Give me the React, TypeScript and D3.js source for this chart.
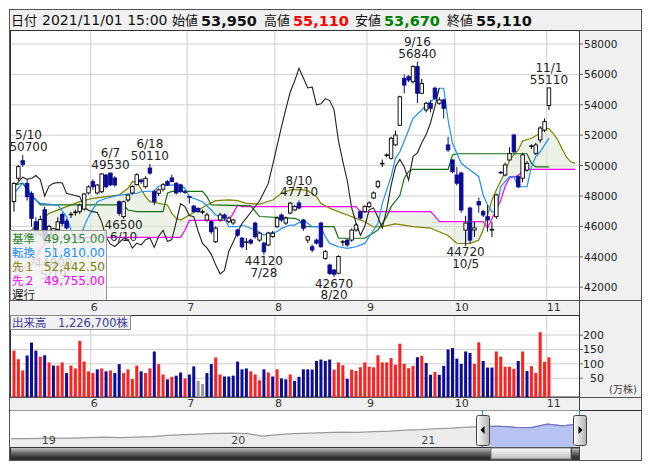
import React from "react";
import * as d3 from "d3";

const FONT = "'DejaVu Sans','Noto Sans CJK JP',sans-serif";

// ---- daily OHLC, 2021/5/6 .. 2021/11/1 (123 trading days) ----
const opens = [47630,49170,50320,48830,48170,46300,45500,47100,45300,45200,
45800,46780,46350,46780,46900,46970,47140,48200,48940,48200,
48280,49380,49510,49180,47620,46640,47740,48200,48750,49050,
48610,49840,48290,48180,48450,48940,49190,48840,48730,48270,
47960,47340,47190,46970,46420,46310,44990,46420,46750,46310,
46230,45760,45230,44990,45100,46220,45100,44900,44780,45330,
45980,46750,46220,46880,47080,47540,46420,45100,44660,45100,
46220,43900,43460,43130,42920,44980,45100,45100,45760,46970,
46970,47300,47870,48610,50120,50680,50480,51360,52660,55740,
55850,55520,56510,54760,53660,54100,55090,54100,54320,51360,
50370,49380,49510,45760,47210,45760,47630,46970,46640,45770,
46640,49560,49380,50370,52010,49270,49170,49710,51290,50810,
51690,52340,53950];
const highs = [48900,50050,50700,49100,48300,46600,46700,47300,46100,45900,
46600,46900,46500,46950,47100,47500,48200,48700,49100,48800,
49500,49450,49530,49300,47700,47700,48150,48700,49500,49150,
49300,50110,48400,48500,48850,49050,49400,48900,48800,48400,
48000,47400,47250,47100,46900,46400,46000,46900,46850,46650,
46500,45850,45300,45230,45200,46300,45650,45000,45650,45700,
46650,46850,46650,47600,47400,47710,46500,45400,44800,45200,
46300,44450,43550,43200,44100,45100,45200,45850,46200,47050,
47400,47650,48300,49050,50400,50800,51900,52300,54600,56000,
55950,56600,56840,55700,54200,54300,55200,54500,54400,51900,
50400,49900,49600,46700,47300,46300,47900,47100,47400,46300,
48150,49650,50200,51200,52100,49400,50850,50300,51400,51500,
52600,53110,55110];
const lows = [46970,49000,49900,47700,45980,45300,45300,44900,45100,44000,
45600,46000,45800,46550,46700,46800,47050,48100,48400,48100,
48200,48500,48650,48600,46700,46500,47600,48100,48700,48800,
48500,49400,47400,48000,48300,48650,48900,48100,48200,48150,
47500,46900,46900,46800,46300,45500,44900,46300,46400,46200,
46100,45300,44550,44450,44800,45200,45000,44120,44700,45250,
45900,46300,46100,46800,47000,47100,45700,44900,44300,44800,
44600,43800,42800,42670,42850,44700,44650,45000,45650,46450,
46900,47200,47800,48500,49900,50550,50400,51300,52600,54750,
55500,55400,54100,54700,53500,53500,54300,54000,53100,50900,
49500,48700,46900,44720,44900,45300,46900,46600,45660,45300,
46500,49450,49300,50300,50800,48510,48900,49600,51100,50700,
51500,52200,53670];
const closes = [48830,49930,50080,47950,46530,45700,46450,45100,46000,45850,
46300,46200,45900,46800,46950,47400,48130,48600,48610,48720,
49450,48610,48730,48730,46860,47620,48060,48620,49400,48940,
49160,49510,47630,48400,48740,48730,48960,48200,48290,48250,
47940,46970,46970,46970,46750,45650,45890,46750,46550,46550,
46420,45430,44660,44990,44900,45320,45560,44330,45560,45550,
46550,46420,46550,47530,47300,47210,45880,45320,44450,44900,
44660,44340,42900,42850,44020,45000,44780,45760,46090,46550,
47300,47540,48200,48940,50150,50700,51800,52010,54530,55300,
55630,56510,54760,55410,54100,53770,54430,54320,53770,51030,
49600,48840,47080,46220,45100,45900,47410,46750,46420,45800,
48070,49550,50040,50800,50910,48610,50700,50150,51300,51360,
52470,52890,55110];

// volume (万株) and its colour code (R up / B down / G unchanged)
const volumes = [146,116,77,129,174,146,125,130,105,94,
94,105,68,94,84,180,108,74,68,81,
84,74,77,68,99,68,81,47,94,74,
68,84,143,99,63,46,55,59,70,49,
63,91,41,30,68,99,122,63,56,56,
59,108,81,84,74,63,43,81,70,56,
81,49,46,63,41,55,81,81,80,110,
115,110,115,80,105,95,48,80,75,88,
105,90,88,130,105,105,120,97,170,100,
85,93,123,128,103,62,72,62,93,150,
155,118,100,143,138,100,175,110,87,87,
143,125,90,90,83,110,143,75,92,68,
210,107,123];
const volumeDir = ["RRRBBBRBRB","RRBRRRRRRB","RBRBBRRRRB","RRBRRBRBBR","BBGGBBRRBB",
  "BBBBRRRBRB","RBBRBBBB","BBBBBRRRBRRRRRRRRRRRRRRRBRBBRB","BBBBBBBRRBBBRRRRRBRBRRRRR"].join("");

// 遅行スパン (plotted 25 days back)
const chikou = [48610,48930,49240,49110,49150,49350,49080,48000,48650,48830,
48890,48860,48180,48100,48030,47960,47250,47060,46970,46910,
46300,45280,44830,44680,44940,45200,45150,44570,44900,44780,
45130,45240,44620,45350,45740,45010,45130,46290,47490,47300,
46720,46640,45680,44880,44590,44160,43470,42880,43100,44370,
44980,45620,46190,46540,46930,47310,47670,48250,48830,50040,
51290,52540,53720,54840,55560,56400,55760,55110,55170,54000,
54070,54410,54280,53670,51620,50260,49020,47230,46240,45420,
46010,47090,47220,46600,45900,47110,48680,49920,50410,49910,
49050,50590,50840,51500,52040,52820,53880,55110];

// [day index, price] vertices
const tenkan: [number, number][] = [[0,48180],[2,48840],[3,48680],[4,47950],[6,47520],[10,47400],[12,46630],[13,45760],[14,45130],[15,45130],[16,45990],[17,46630],[19,47620],[21,47850],[24,48060],[28,48180],[29,48280],[32,48330],[33,48660],[36,48720],[38,48720],[39,48500],[40,47950],[42,47740],[43,47620],[45,47080],[46,46750],[48,46530],[49,45980],[51,45980],[52,46090],[55,45760],[57,45430],[58,45540],[60,45650],[61,45870],[63,46090],[64,46090],[66,46420],[68,45980],[70,45980],[71,45320],[72,44880],[74,44660],[76,44560],[78,44660],[80,44880],[81,45320],[83,46200],[84,47520],[86,49270],[87,50480],[88,50910],[90,52340],[91,53110],[93,53660],[94,53990],[96,54430],[97,55090],[98,55090],[99,53000],[100,51470],[102,50150],[103,49930],[104,49710],[106,49270],[107,48070],[108,47410],[109,46950],[110,46950],[111,48610],[113,49270],[114,49270],[115,48610],[117,48610],[118,49930],[119,50590],[120,50910],[122,51810]];
const kijun: [number, number][] = [[0,48720],[2,48840],[3,48400],[5,47740],[6,47410],[25,47410],[26,47080],[28,46970],[34,46970],[35,48180],[36,48300],[43,48300],[44,47960],[45,47410],[54,47350],[56,46650],[64,46530],[65,46420],[66,45980],[73,45980],[74,45220],[80,45220],[83,45760],[85,46640],[86,47300],[88,48030],[89,49170],[90,49610],[91,49755],[99,49755],[100,50700],[101,50780],[117,50780],[118,50150],[119,49915],[122,49915]];
const senkouA: [number, number][] = [[0,44800],[4,45760],[6,46310],[8,46860],[12,47300],[15,47630],[18,47850],[21,47960],[24,48070],[26,48510],[27,48940],[28,48920],[30,47960],[31,47630],[35,47410],[36,46860],[37,46530],[38,46420],[40,46750],[42,47080],[44,47410],[46,47690],[49,47740],[51,47690],[53,47520],[56,47470],[59,47740],[61,48180],[63,48400],[65,48440],[67,48350],[69,47960],[70,47520],[72,47190],[74,46970],[76,46750],[78,46530],[80,46310],[82,45960],[84,45980],[87,46160],[91,45980],[95,45890],[96,45760],[99,45400],[101,44890],[104,44870],[106,45100],[107,45760],[108,46750],[109,47740],[110,48400],[112,49580],[113,50370],[115,51030],[116,51620],[118,51800],[120,52120],[121,52450],[122,52440],[123,52100],[124,51700],[125,51100],[126,50550],[127,50250],[128,50150]];
const senkouB: [number, number][] = [[0,43000],[4,43460],[6,44500],[8,45100],[9,45280],[38,45280],[39,45760],[40,46390],[49,46390],[50,46860],[51,47400],[52,47300],[78,47300],[79,46970],[95,46970],[96,46680],[97,46320],[107,46320],[108,45880],[109,46500],[110,47100],[111,47700],[112,48620],[113,49190],[115,49340],[116,49640],[117,49755],[128,49755]];

const priceTicks = [42000,44000,46000,48000,50000,52000,54000,56000,58000];
const volumeTicks = [50,100,150,200];
const monthTickIdx = [18,40,60,81,101,122];
const monthTickLabels = ["6","7","8","9","10","11"];

const annotations = [
  { idx: 2, date: "5/10", value: 50700, side: "high" },
  { idx: 9, date: "5/19", value: 44000, side: "low" },
  { idx: 22, date: "6/7", value: 49530, side: "high" },
  { idx: 25, date: "6/10", value: 46500, side: "low" },
  { idx: 31, date: "6/18", value: 50110, side: "high" },
  { idx: 57, date: "7/28", value: 44120, side: "low" },
  { idx: 65, date: "8/10", value: 47710, side: "high" },
  { idx: 73, date: "8/20", value: 42670, side: "low" },
  { idx: 92, date: "9/16", value: 56840, side: "high" },
  { idx: 103, date: "10/5", value: 44720, side: "low" },
  { idx: 122, date: "11/1", value: 55110, side: "high" },
];

const legendLabels = ["基準", "転換", "先１", "先２", "遅行"];
const legendValues = ["49,915.00", "51,810.00", "52,442.50", "49,755.00", ""];

// navigator: monthly closes 2018/11 .. 2021/11
const navMonths = ["2018-11","2018-12","2019-01","2019-02","2019-03","2019-04","2019-05","2019-06","2019-07","2019-08","2019-09","2019-10","2019-11","2019-12","2020-01","2020-02","2020-03","2020-04","2020-05","2020-06","2020-07","2020-08","2020-09","2020-10","2020-11","2020-12","2021-01","2021-02","2021-03","2021-04","2021-05","2021-06","2021-07","2021-08","2021-09","2021-10","2021-11"];
const navValues = [14900,14900,15400,16250,16250,17600,19000,17600,19000,20400,23700,25900,27300,29200,30000,28700,21800,25900,28700,30000,31400,32800,32000,34200,35500,38300,39700,42400,43800,46600,48000,49000,46000,45000,55000,50000,55110];
const navYearLabels = ["19", "20", "21"];
const navYears = [2019, 2020, 2021];

const COL_UP_VOL = "#ff2020";
const COL_DN = "#0c0c96";

export default function App() {
  const step = 4.385;
  const xC = d3.scaleLinear().domain([0, 1]).range([13.97, 13.97 + step]);
  const gx = (i: number) => xC(i) - step / 2;
  const yP = d3.scaleLinear().domain([42000, 58000]).range([287.2, 44]);
  const yV = d3.scaleLinear().domain([0, 200]).range([392.6, 335.1]);
  const poly = (pts: [number, number][]) =>
    d3.scaleLinear().domain(pts.map((p) => p[0])).range(pts.map((p) => p[1])).clamp(true);
  const A = poly(senkouA);
  const B = poly(senkouB);
  const cloudIdx = d3.range(0, 129);
  const cloud = d3.area<number>().x((i) => xC(i)).y0((i) => yP(A(i))).y1((i) => yP(B(i)))(cloudIdx) || "";
  const line = d3.line<[number, number]>().x((d) => xC(d[0])).y((d) => yP(d[1]));
  const chikouPts: [number, number][] = chikou.map((v, i) => [i, v]);

  const parse = d3.timeParse("%Y-%m");
  const navD = navMonths.map((m) => parse(m) as Date);
  const navX = d3.scaleTime().domain([navD[0], navD[navD.length - 1]]).range([10, 579]);
  const navY = d3.scaleLinear().domain([0, 91000]).range([444, 411]);
  const navLine = d3.line<number>().x((_, i) => navX(navD[i])).y((v) => navY(v))(navValues) || "";
  const navArea = d3.area<number>().x((_, i) => navX(navD[i])).y0(447).y1((v) => navY(v))(navValues) || "";

  const volColor = (c: string) => (c === "R" ? COL_UP_VOL : c === "B" ? COL_DN : "#9a9a9a");

  return (
    <svg width={653} height={470} style={{ position: "absolute", left: 0, top: 0, fontFamily: FONT }}>
      <defs>
        <clipPath id="pclip"><rect x={11} y={31} width={568} height={269} /></clipPath>
        <clipPath id="selclip"><rect x={490} y={410} width={83} height={38} /></clipPath>
        <clipPath id="navclip"><rect x={11} y={411} width={568} height={36} /></clipPath>
        <linearGradient id="track" x1="0" y1="0" x2="0" y2="1">
          <stop offset="0%" stopColor="#c8c8c8" />
          <stop offset="45%" stopColor="#6a6a6a" />
          <stop offset="100%" stopColor="#1a1a1a" />
        </linearGradient>
        <linearGradient id="thumb" x1="0" y1="0" x2="0" y2="1">
          <stop offset="0%" stopColor="#ffffff" />
          <stop offset="100%" stopColor="#bdbdbd" />
        </linearGradient>
        <linearGradient id="handle" x1="0" y1="0" x2="1" y2="0">
          <stop offset="0%" stopColor="#ffffff" />
          <stop offset="100%" stopColor="#b0b0b0" />
        </linearGradient>
      </defs>

      {/* frame & backgrounds */}
      <rect x={9.5} y={9.5} width={632} height={451} fill="#f0f0f0" stroke="#555" />
      <rect x={9.5} y={9.5} width={632} height={21} fill="#f0f0f0" stroke="#555" />

      {/* header */}
      <g fontSize={13} fill="#111">
        <text x={11} y={25}>日付</text>
        <text x={42} y={25} fontSize={14}>2021/11/01 15:00</text>
        <text x={172} y={25}>始値</text>
        <text x={201} y={25.5} fontSize={14.5} fontWeight="bold">53,950</text>
        <text x={264} y={25}>高値</text>
        <text x={293} y={25.5} fontSize={14.5} fontWeight="bold" fill="#ff0000">55,110</text>
        <text x={355} y={25}>安値</text>
        <text x={384} y={25.5} fontSize={14.5} fontWeight="bold" fill="#008000">53,670</text>
        <text x={447} y={25}>終値</text>
        <text x={476} y={25.5} fontSize={14.5} fontWeight="bold">55,110</text>
      </g>

      {/* price panel */}
      <rect x={10.5} y={30.5} width={569} height={270} fill="#fff" stroke="#333" />
      <g stroke="#cfcfcf" strokeWidth={1}>
        {priceTicks.map((t) => (
          <line key={t} x1={11} x2={579} y1={yP(t)} y2={yP(t)} />
        ))}
        {monthTickIdx.map((i) => (
          <line key={i} x1={gx(i)} x2={gx(i)} y1={31} y2={300} />
        ))}
      </g>
      <g clipPath="url(#pclip)">
        <path d={cloud} fill="#dde8d4" fillOpacity={0.55} stroke="none" />
        <path d={line(senkouB) || ""} fill="none" stroke="#ff00ff" strokeWidth={1.2} />
        <path d={line(senkouA) || ""} fill="none" stroke="#808000" strokeWidth={1.2} />
        <path d={line(kijun) || ""} fill="none" stroke="#157015" strokeWidth={1.2} />
        <path d={line(tenkan) || ""} fill="none" stroke="#1e90ff" strokeWidth={1.2} />
        <path d={line(chikouPts) || ""} fill="none" stroke="#222" strokeWidth={1.1} />
        {closes.map((c, i) => {
          const o = opens[i];
          const up = c >= o;
          const x = xC(i);
          const yTop = yP(Math.max(o, c));
          const yBot = yP(Math.min(o, c));
          const col = up ? "#000" : COL_DN;
          return (
            <g key={i}>
              <line x1={x} x2={x} y1={yP(highs[i])} y2={yP(lows[i])} stroke={col} strokeWidth={1} />
              <rect x={x - 1.75} y={yTop} width={3.5} height={Math.max(yBot - yTop, 0.6)}
                fill={up ? "#fff" : COL_DN} stroke={col} strokeWidth={0.9} />
            </g>
          );
        })}
        {annotations.map((a) => {
          const w = Math.max(a.value.toString().length, a.date.length) * 7.4;
          const cx = Math.min(Math.max(xC(a.idx), 10 + w / 2), 579 - w / 2);
          const y = yP(a.value);
          const vy = a.side === "high" ? y - 8 : y + 6.5;
          const dy = a.side === "high" ? y - 19.5 : y + 18;
          return (
            <g key={a.date} fontSize={12} fill="#222" textAnchor="middle" dominantBaseline="central">
              <text x={cx} y={vy}>{a.value}</text>
              <text x={cx} y={dy}>{a.date}</text>
            </g>
          );
        })}
      </g>
      {/* legend */}
      <rect x={10.5} y={230.5} width={96} height={70} fill="#f3f3f3" fillOpacity={0.82} stroke="#999" />
      {legendLabels.map((l, k) => {
        const col = ["#2e8b2e", "#1e90ff", "#808000", "#ff00ff", "#222"][k];
        const y = 243 + k * 14;
        return (
          <g key={l} fill={col}>
            <text x={12} y={y} fontSize={11.5}>{l}</text>
            <text x={105} y={y} fontSize={12} textAnchor="end">{legendValues[k]}</text>
          </g>
        );
      })}

      {/* price axis */}
      <line x1={579.5} x2={579.5} y1={30} y2={410} stroke="#444" />
      {priceTicks.map((t) => (
        <g key={t}>
          <line x1={579.5} x2={583} y1={yP(t)} y2={yP(t)} stroke="#666" />
          <text x={584} y={yP(t) + 4} fontSize={10.5} fill="#222">{t}</text>
        </g>
      ))}
      <line x1={9.5} x2={641.5} y1={300.5} y2={300.5} stroke="#555" />

      {/* top date strip */}
      {monthTickIdx.map((i, k) => (
        <text key={i} x={gx(i)} y={311} fontSize={11} fill="#333">{monthTickLabels[k]}</text>
      ))}

      {/* volume panel */}
      <rect x={10.5} y={315.5} width={569} height={81.5} fill="#fff" stroke="#333" />
      <g stroke="#cfcfcf">
        {volumeTicks.map((t) => (
          <line key={t} x1={11} x2={579} y1={yV(t)} y2={yV(t)} />
        ))}
        {monthTickIdx.map((i) => (
          <line key={i} x1={gx(i)} x2={gx(i)} y1={316} y2={397} />
        ))}
      </g>
      {volumes.map((v, i) => (
        <rect key={i} x={xC(i) - 1.5} y={yV(v)} width={3} height={397 - yV(v)} fill={volColor(volumeDir[i])} />
      ))}
      <rect x={10.5} y={315.5} width={120} height={14} fill="#f0f0f0" fillOpacity={0.9} stroke="#888" />
      <text x={12} y={326.5} fontSize={11.5} fill="#3a3a9c">出来高　1,226,700株</text>
      {volumeTicks.map((t) => (
        <g key={t}>
          <line x1={579.5} x2={583} y1={yV(t)} y2={yV(t)} stroke="#666" />
          <text x={604} y={yV(t) + 4} fontSize={11} fill="#222" textAnchor="end">{t}</text>
        </g>
      ))}
      <text x={609} y={393} fontSize={10} fill="#444">(万株)</text>
      <line x1={9.5} x2={641.5} y1={397.5} y2={397.5} stroke="#555" />

      {/* bottom date strip */}
      {monthTickIdx.map((i, k) => (
        <text key={i} x={gx(i)} y={407} fontSize={11} fill="#333">{monthTickLabels[k]}</text>
      ))}

      {/* navigator */}
      <line x1={9.5} x2={641.5} y1={410.5} y2={410.5} stroke="#333" />
      <rect x={10.5} y={410.5} width={569} height={37} fill="#fff" stroke="none" />
      <g clipPath="url(#navclip)">
        <path d={navArea} fill="#ececec" />
        <path d={navLine} fill="none" stroke="#9a9a9a" strokeWidth={1.2} />
        <g clipPath="url(#selclip)">
          <path d={navArea} fill="#b7c3f5" />
          <path d={navLine} fill="none" stroke="#7272c8" strokeWidth={1.2} />
        </g>
      </g>
      {navYears.map((y, k) => (
        <text key={y} x={navX(new Date(y, 0, 1))} y={444} fontSize={11} fill="#444">{navYearLabels[k]}</text>
      ))}
      <line x1={482.5} x2={482.5} y1={410} y2={448} stroke="#1e90ff" />
      <line x1={579.5} x2={579.5} y1={410} y2={448} stroke="#1e90ff" />
      {/* scrollbar */}
      <rect x={10.5} y={447.5} width={569} height={12} fill="url(#track)" stroke="#333" />
      <rect x={491} y={448} width={80} height={11} fill="url(#thumb)" stroke="#777" />
      <rect x={571.5} y={448} width={8} height={11} fill="url(#track)" stroke="#444" />
      <line x1={9.5} x2={641.5} y1={460.5} y2={460.5} stroke="#555" />
      {/* handles */}
      <rect x={476.5} y={415.5} width={13} height={30} rx={2} fill="url(#handle)" stroke="#444" />
      <path d="M484.5,426 L480.5,430 L484.5,434 Z" fill="#000" />
      <rect x={573.5} y={415.5} width={13} height={30} rx={2} fill="url(#handle)" stroke="#444" />
      <path d="M578.5,426 L582.5,430 L578.5,434 Z" fill="#000" />
    </svg>
  );
}
